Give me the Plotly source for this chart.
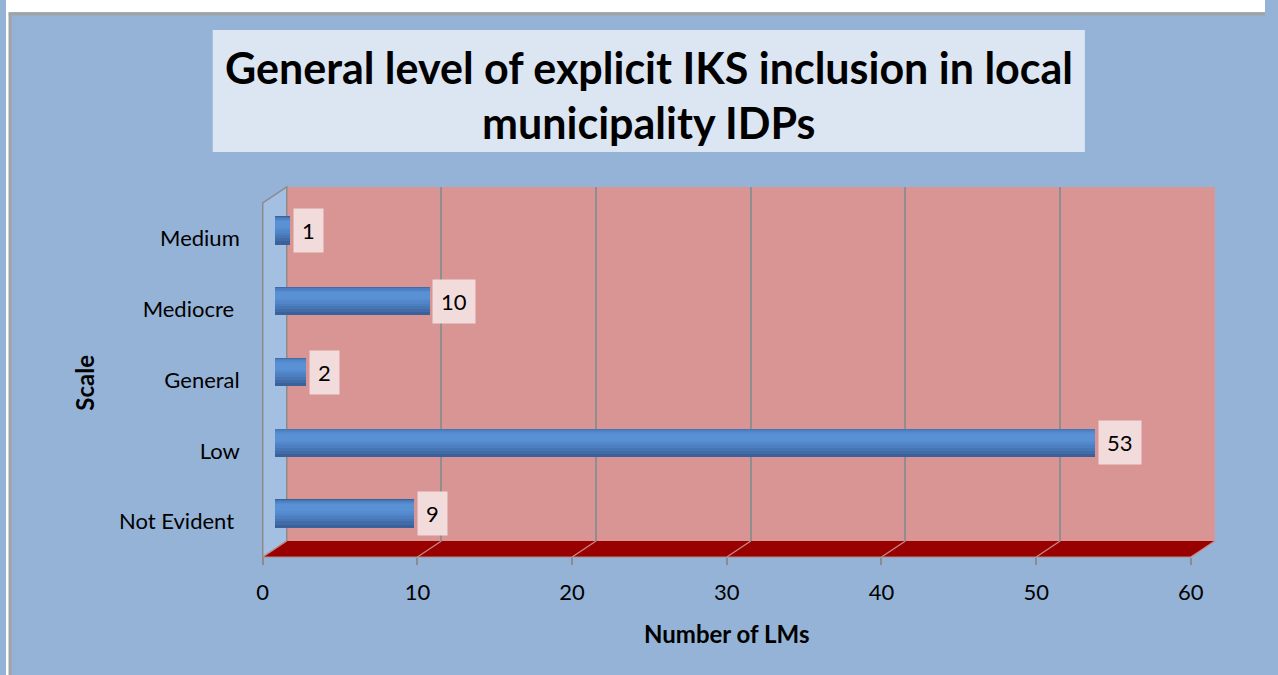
import plotly.graph_objects as go

# ---------------- data ----------------
categories = ["Medium", "Mediocre", "General", "Low", "Not Evident"]
category_labels = ["Medium", "Mediocre\u00a0", "General", "Low", "Not Evident\u00a0"]
values = [1, 10, 2, 53, 9]
x_ticks = [0, 10, 20, 30, 40, 50, 60]
title_lines = ["General level of explicit IKS inclusion in local", "municipality IDPs"]
x_title = "Number of LMs"
y_title = "Scale"

# ---------------- geometry (reference pixels) ----------------
W, H = 1278, 675
# measured horizontal mapping of the viewer: shown_x = SHIFT + SCALE * figure_x
SHIFT, SCALE = 6.3, 0.985
FRONT_X0, FRONT_X1 = 263, 1191
DEPTH_X, DEPTH_Y = 24, 16
FRONT_YB, FRONT_YT = 557, 203
XMAX = 60
NCAT = len(categories)


def px(x):
    return ((x - SHIFT) / SCALE) / W


def py(y):
    return 1 - y / H


def front_x(v):
    return FRONT_X0 + (FRONT_X1 - FRONT_X0) * v / XMAX


FONT = "Lato, 'Open Sans', sans-serif"
BG = "#95b3d7"
cat_range = [NCAT - 0.5, -0.5]

fig = go.Figure()

# cylinder shading layers: (offset from category centre, thickness, colour); negative offset = upward
cyl_layers = [
    (-0.20, 0.40, "#3a6199"),
    (-0.195, 0.35, "#416ca8"),
    (-0.19, 0.30, "#4776b5"),
    (-0.18, 0.25, "#4c7ec0"),
    (-0.165, 0.20, "#5185c9"),
    (-0.15, 0.15, "#558bcf"),
    (-0.13, 0.10, "#5a91d5"),
]
for i, (off, wid, col) in enumerate(cyl_layers):
    fig.add_trace(go.Bar(x=values, y=categories, orientation="h", xaxis="x3", yaxis="y3",
                         width=wid, offset=off, marker=dict(color=col, line=dict(width=0)),
                         hoverinfo="x+y" if i == 0 else "skip", showlegend=False))

# invisible traces to activate front and back-wall axes
fig.add_trace(go.Scatter(x=[0] * NCAT, y=categories, xaxis="x2", yaxis="y2",
                         mode="markers", marker=dict(opacity=0), hoverinfo="skip", showlegend=False))
fig.add_trace(go.Scatter(x=[0] * NCAT, y=categories, xaxis="x", yaxis="y",
                         mode="markers", marker=dict(opacity=0), hoverinfo="skip", showlegend=False))

shapes = []
# white strips + frame
shapes.append(dict(type="rect", xref="paper", yref="paper", x0=0, x1=1, y0=py(12), y1=1,
                   fillcolor="white", line=dict(width=0), layer="below"))
shapes.append(dict(type="rect", xref="paper", yref="paper", x0=0, x1=px(9), y0=0, y1=1,
                   fillcolor="white", line=dict(width=0), layer="below"))
shapes.append(dict(type="line", xref="paper", yref="paper", x0=px(9), x1=1, y0=py(14), y1=py(14),
                   line=dict(color="#a3a3a3", width=3), layer="below"))
shapes.append(dict(type="line", xref="paper", yref="paper", x0=px(10.5), x1=px(10.5), y0=0, y1=py(13),
                   line=dict(color="#a3a3a3", width=3), layer="below"))
# title box
shapes.append(dict(type="rect", xref="paper", yref="paper", x0=px(213), x1=px(1085), y0=py(152), y1=py(30),
                   fillcolor="#dce6f2", line=dict(width=0), layer="below"))
# back wall
shapes.append(dict(type="rect", xref="paper", yref="paper",
                   x0=px(FRONT_X0 + DEPTH_X), x1=px(FRONT_X1 + DEPTH_X),
                   y0=py(FRONT_YB - DEPTH_Y), y1=py(FRONT_YT - DEPTH_Y),
                   fillcolor="#d99594", line=dict(width=0), layer="below"))
# side wall
side = (f"M {px(FRONT_X0)},{py(FRONT_YB)} L {px(FRONT_X0)},{py(FRONT_YT)} "
        f"L {px(FRONT_X0 + DEPTH_X)},{py(FRONT_YT - DEPTH_Y)} L {px(FRONT_X0 + DEPTH_X)},{py(FRONT_YB - DEPTH_Y)} Z")
shapes.append(dict(type="path", xref="paper", yref="paper", path=side,
                   fillcolor="#a3bfe2", line=dict(color="#8c8c8c", width=1.5), layer="below"))
# floor
floor = (f"M {px(FRONT_X0)},{py(FRONT_YB)} L {px(FRONT_X1)},{py(FRONT_YB)} "
         f"L {px(FRONT_X1 + DEPTH_X)},{py(FRONT_YB - DEPTH_Y)} L {px(FRONT_X0 + DEPTH_X)},{py(FRONT_YB - DEPTH_Y)} Z")
shapes.append(dict(type="path", xref="paper", yref="paper", path=floor,
                   fillcolor="#990000", line=dict(width=0), layer="below"))
for v in x_ticks:
    shapes.append(dict(type="line", xref="paper", yref="paper",
                       x0=px(front_x(v)), y0=py(FRONT_YB), x1=px(front_x(v) + DEPTH_X), y1=py(FRONT_YB - DEPTH_Y),
                       line=dict(color="#c98a8a", width=1.2), layer="below"))
shapes.append(dict(type="line", xref="paper", yref="paper", x0=px(FRONT_X0), x1=px(FRONT_X1),
                   y0=py(FRONT_YB), y1=py(FRONT_YB), line=dict(color="#b08a8a", width=1.2), layer="below"))

annotations = []
for i, line in enumerate(title_lines):
    annotations.append(dict(text=f"<b>{line}</b>", xref="paper", yref="paper", x=px(649), y=py(67 + 55 * i),
                            xanchor="center", yanchor="middle", showarrow=False,
                            font=dict(family=FONT, size=43, color="black")))
annotations.append(dict(text=f"<b>{x_title}</b>", xref="paper", yref="paper", x=px(727), y=py(633),
                        xanchor="center", yanchor="middle", showarrow=False,
                        font=dict(family=FONT, size=24, color="black")))
annotations.append(dict(text=f"<b>{y_title}</b>", xref="paper", yref="paper", x=px(85), y=py(383),
                        xanchor="center", yanchor="middle", showarrow=False, textangle=-90,
                        font=dict(family=FONT, size=24, color="black")))
for c, v in zip(categories, values):
    annotations.append(dict(text=str(v), xref="x3", yref="y3", x=v, y=c, xanchor="left", yanchor="middle",
                            showarrow=False, xshift=3, bgcolor="#f2dcdb", borderpad=8,
                            font=dict(family=FONT, size=22, color="black")))

fig.update_layout(
    width=W, height=H,
    margin=dict(l=0, r=0, t=0, b=0),
    paper_bgcolor=BG, plot_bgcolor="rgba(0,0,0,0)",
    barmode="overlay", bargap=0,
    showlegend=False,
    shapes=shapes, annotations=annotations,
    # back wall axes (grid)
    xaxis=dict(domain=[px(FRONT_X0 + DEPTH_X), px(FRONT_X1 + DEPTH_X)], range=[0, XMAX], anchor="y",
               tickvals=x_ticks, showticklabels=False, ticks="", showgrid=True,
               gridcolor="#8f8f8f", gridwidth=1.5, zeroline=False, showline=False, fixedrange=True),
    yaxis=dict(domain=[py(FRONT_YB - DEPTH_Y), py(FRONT_YT - DEPTH_Y)], type="category",
               categoryorder="array", categoryarray=categories, range=cat_range, anchor="x",
               showticklabels=False, showgrid=False, zeroline=False, fixedrange=True),
    # front axes (ticks + labels)
    xaxis2=dict(domain=[px(FRONT_X0), px(FRONT_X1)], range=[0, XMAX], anchor="y2",
                tickvals=x_ticks, ticks="outside", ticklen=7, tickwidth=1.5, tickcolor="#8c8c8c",
                ticklabelstandoff=9, showgrid=False, zeroline=False, showline=False,
                tickfont=dict(family=FONT, size=22, color="black"), fixedrange=True),
    yaxis2=dict(domain=[py(FRONT_YB), py(FRONT_YT)], type="category",
                categoryorder="array", categoryarray=categories, range=cat_range, anchor="x2",
                tickvals=categories, ticktext=category_labels,
                ticks="", ticklabelstandoff=22, showgrid=False, zeroline=False, showline=False,
                tickfont=dict(family=FONT, size=22, color="black"), fixedrange=True),
    # mid-depth axes (bars)
    xaxis3=dict(domain=[px(FRONT_X0 + DEPTH_X / 2), px(FRONT_X1 + DEPTH_X / 2)], range=[0, XMAX], anchor="y3",
                visible=False, fixedrange=True),
    yaxis3=dict(domain=[py(FRONT_YB - DEPTH_Y / 2), py(FRONT_YT - DEPTH_Y / 2)], type="category",
                categoryorder="array", categoryarray=categories, range=cat_range, anchor="x3",
                visible=False, fixedrange=True),
)

fig.write_html(
    "out.html",
    config={"responsive": False, "displayModeBar": False},
    post_script="document.body.style.margin='0';document.body.style.overflow='hidden';"
                "document.body.style.background='linear-gradient(to bottom, #ffffff 0px, #ffffff 12px, "
                "#a3a3a3 12px, #a3a3a3 15px, rgba(0,0,0,0) 15px), linear-gradient(to right, #ffffff 0px, "
                "#ffffff 8px, " + BG + " 8px)';",
)
